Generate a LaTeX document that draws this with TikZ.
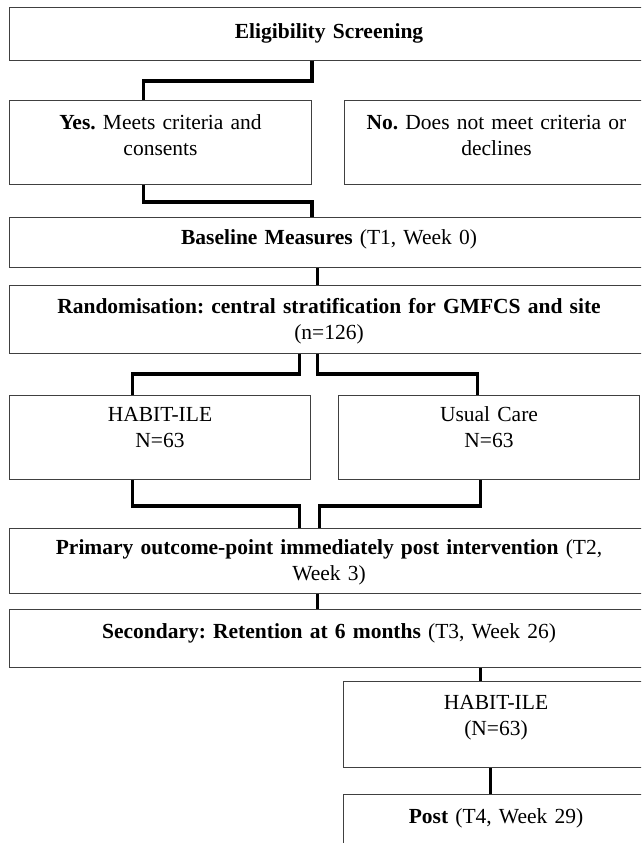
\documentclass[tikz,border=0pt]{standalone}
\usepackage{fontspec}
\setmainfont{Liberation Serif}
\frenchspacing

\tikzset{
  box/.style={draw=black!75, line width=1pt, anchor=north west, inner xsep=4pt, inner ysep=0pt,
    align=center, font=\fontsize{21.5}{25.5}\selectfont},
  link/.style={line width=3.8pt, line join=miter}
}

\begin{document}
\begin{tikzpicture}[x=1pt,y=-1pt]
		\useasboundingbox (0,0) rectangle (641,843);
		\clip (0,0) rectangle (641,843);
		% boxes
		\node[box, text width=631pt, text height=31pt, text depth=22pt] (elig) at (9,7) {\textbf{Eligibility Screening}};
		\node[box, text width=294pt, text height=29pt, text depth=55pt] (yes) at (9,100) {\textbf{Yes.} Meets criteria and\\ consents};
		\node[box, text width=296pt, text height=29pt, text depth=55pt] (no) at (344,100) {\textbf{No.} Does not meet criteria or\\ declines};
		\node[box, text width=631pt, text height=27pt, text depth=23pt] (base) at (9,217) {\textbf{Baseline Measures} (T1, Week 0)};
		\node[box, text width=631pt, text height=28pt, text depth=40pt] (rand) at (9,285) {\textbf{Randomisation: central stratification for GMFCS and site}\\ (n=126)};
		\node[box, text width=293pt, text height=26pt, text depth=58pt] (habit) at (9,395) {HABIT-ILE\\ N=63};
		\node[box, text width=293pt, text height=26pt, text depth=58pt] (usual) at (338,395) {Usual Care\\ N=63};
		\node[box, text width=631pt, text height=26pt, text depth=39pt] (primary) at (9,528) {\textbf{Primary outcome-point immediately post intervention} (T2,\\ Week 3)};
		\node[box, text width=631pt, text height=29pt, text depth=29pt] (second) at (9,609) {\textbf{Secondary: Retention at 6 months} (T3, Week 26)};
		\node[box, text width=297pt, text height=28pt, text depth=58pt] (habit2) at (343,681) {HABIT-ILE\\ (N=63)};
		\node[box, text width=297pt, text height=29pt, text depth=60pt] (post) at (343,794) {\textbf{Post} (T4, Week 29)};
		% connectors
		\draw[link] (yes.north east |- elig.south) -- ++(0,20) -| ([xshift=-17pt]yes.north);
		\draw[link] ([xshift=-17pt]yes.south) -- ++(0,17) -| (yes.south east |- base.north);
		\draw[link] ([xshift=-11.5pt]base.south) -- ([xshift=-11.5pt]rand.north);
		\draw[link] ([xshift=-29.5pt]rand.south) -- ++(0,20) -| ([xshift=-27.5pt]habit.north);
		\draw[link] ([xshift=-11.5pt]rand.south) -- ++(0,20) -| ([xshift=-11.5pt]usual.north);
		\draw[link] ([xshift=-27.5pt]habit.south) -- ++(0,26) -| ([xshift=-29.5pt]primary.north);
		\draw[link] ([xshift=-8.5pt]usual.south) -- ++(0,26) -| ([xshift=-9.5pt]primary.north);
		\draw[link] ([xshift=-11.5pt]primary.south) -- ([xshift=-11.5pt]second.north);
		\draw[link] ([xshift=-15.5pt]habit2.north |- second.south) -- ([xshift=-15.5pt]habit2.north);
		\draw[link] ([xshift=-5.5pt]habit2.south) -- ([xshift=-5.5pt]post.north);
	\end{tikzpicture}
\end{document}
